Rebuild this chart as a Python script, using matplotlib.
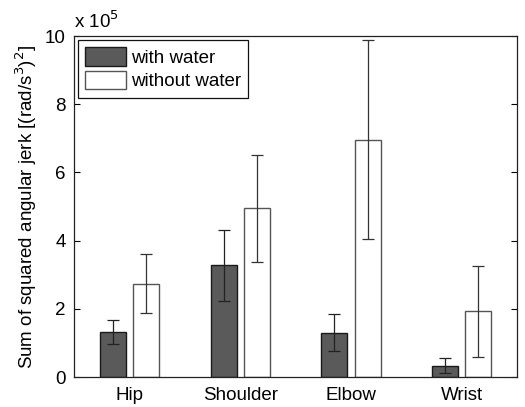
import numpy as np
import matplotlib
matplotlib.use('Agg')
import matplotlib.pyplot as plt

plt.rcParams['font.family'] = ['Liberation Sans', 'DejaVu Sans']

joints = ['Hip', 'Shoulder', 'Elbow', 'Wrist']
# values in units of 1e5 (rad/s^3)^2
with_water = [1.32, 3.28, 1.30, 0.32]
with_water_lo = [0.96, 2.22, 0.77, 0.12]
with_water_hi = [1.68, 4.30, 1.85, 0.55]
without_water = [2.73, 4.95, 6.95, 1.93]
without_water_lo = [1.88, 3.38, 4.05, 0.60]
without_water_hi = [3.60, 6.50, 9.88, 3.25]

x = np.arange(1, len(joints) + 1)
w = 0.235
off = 0.15
fs = 13.5

fig = plt.figure(figsize=(5.25, 4.07), dpi=100)
ax = fig.add_axes([0.141, 0.0737, 0.844, 0.8378])

ww = np.array(with_water)
wo = np.array(without_water)
err_w = [ww - np.array(with_water_lo), np.array(with_water_hi) - ww]
err_o = [wo - np.array(without_water_lo), np.array(without_water_hi) - wo]

ax.bar(x - off, ww, w, color='#5a5a5a', edgecolor='#1a1a1a', lw=1.0, label='with water')
ax.bar(x + off, wo, w, color='white', edgecolor='#555555', lw=1.0, label='without water')
ax.errorbar(x - off, ww, yerr=err_w, fmt='none', ecolor='#222222', elinewidth=0.9, capsize=4, capthick=0.9)
ax.errorbar(x + off, wo, yerr=err_o, fmt='none', ecolor='#333333', elinewidth=0.9, capsize=4, capthick=0.9)

ax.set_xlim(0.5, 4.5)
ax.set_ylim(0, 10)
ax.set_xticks(x)
ax.set_xticklabels(joints, fontsize=fs)
ax.set_yticks([0, 2, 4, 6, 8, 10])
ax.set_yticklabels(['0', '2', '4', '6', '8', '10'], fontsize=fs)
ax.tick_params(axis='x', length=0, pad=7)
ax.tick_params(axis='y', direction='in', length=4, right=True, pad=6)
for s in ax.spines.values():
    s.set_linewidth(0.9)
    s.set_color('#222222')

ax.set_ylabel(r'Sum of squared angular jerk [(rad/s$^3$)$^2$]', fontsize=fs, labelpad=4)
ax.text(0.0, 1.012, r'x 10$^5$', transform=ax.transAxes, fontsize=fs, ha='left', va='bottom')

leg = ax.legend(loc='upper left', fontsize=fs, fancybox=False, framealpha=1,
                edgecolor='#111111', borderaxespad=0.2, handlelength=2.15,
                handleheight=1.15, handletextpad=0.27, labelspacing=0.2, borderpad=0.4)
leg.get_frame().set_linewidth(0.9)

fig.savefig('out.png', dpi=100)
